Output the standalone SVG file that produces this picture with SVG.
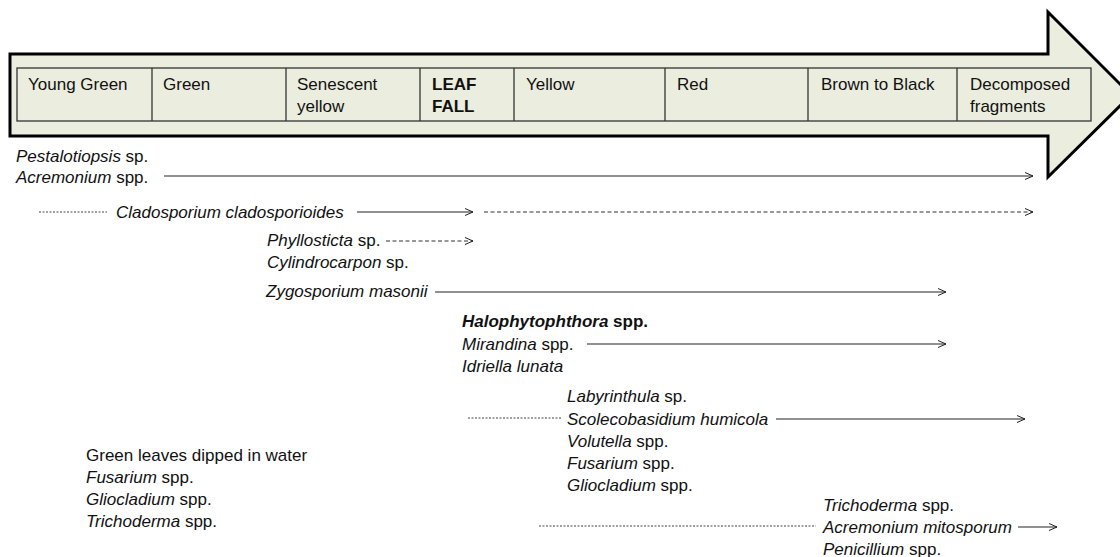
<svg xmlns="http://www.w3.org/2000/svg" width="1120" height="557" viewBox="0 0 1120 557">
<defs>
<marker id="chev" markerWidth="10" markerHeight="10" refX="8" refY="4" orient="auto" markerUnits="userSpaceOnUse">
<path d="M0,0.5 L8,4 L0,7.5" fill="none" stroke="#222" stroke-width="1"/>
</marker>
<style>
text{font-family:"Liberation Sans",Arial,sans-serif;font-size:17px;fill:#111}
.i{font-style:italic}
.b{font-weight:bold}
.cell{fill:none;stroke:#333;stroke-width:1.3}
.solid{stroke:#222;stroke-width:1.1;fill:none}
.dash{stroke:#333;stroke-width:1;fill:none;stroke-dasharray:4 2.5}
.dot{stroke:#444;stroke-width:1;fill:none;stroke-dasharray:2 1.5}
</style>
</defs>
<rect width="1120" height="557" fill="#fff"/>
<g id="timeline">
<polygon points="10,54 1048,54 1048,12 1131,95 1048,177 1048,136 10,136" fill="#EBEDDE" stroke="#000" stroke-width="3"/>
<rect x="17" y="68" width="1074" height="53" class="cell"/>
<line x1="152" y1="68" x2="152" y2="121" class="cell"/>
<line x1="286" y1="68" x2="286" y2="121" class="cell"/>
<line x1="420" y1="68" x2="420" y2="121" class="cell"/>
<line x1="514" y1="68" x2="514" y2="121" class="cell"/>
<line x1="665" y1="68" x2="665" y2="121" class="cell"/>
<line x1="808" y1="68" x2="808" y2="121" class="cell"/>
<line x1="957" y1="68" x2="957" y2="121" class="cell"/>
<text x="28" y="90">Young Green</text>
<text x="163" y="90">Green</text>
<text x="297" y="90">Senescent</text>
<text x="297" y="112">yellow</text>
<text x="432" y="90" class="b">LEAF</text>
<text x="432" y="112" class="b">FALL</text>
<text x="526" y="90">Yellow</text>
<text x="677" y="90">Red</text>
<text x="821" y="90">Brown to Black</text>
<text x="970" y="90">Decomposed</text>
<text x="970" y="112">fragments</text>
</g>
<g id="connectors">
<line x1="164" y1="176" x2="1033" y2="176" class="solid" marker-end="url(#chev)"/>
<line x1="39" y1="212" x2="107" y2="212" class="dot"/>
<line x1="357" y1="212" x2="473" y2="212" class="solid" marker-end="url(#chev)"/>
<line x1="484" y1="212" x2="1033" y2="212" class="dash" marker-end="url(#chev)"/>
<line x1="386" y1="241" x2="473" y2="241" class="dash" marker-end="url(#chev)"/>
<line x1="435" y1="292" x2="946" y2="292" class="solid" marker-end="url(#chev)"/>
<line x1="587" y1="344" x2="946" y2="344" class="solid" marker-end="url(#chev)"/>
<line x1="468" y1="418" x2="562" y2="418" class="dot"/>
<line x1="776" y1="419" x2="1025" y2="419" class="solid" marker-end="url(#chev)"/>
<line x1="539" y1="526" x2="816" y2="526" class="dot"/>
<line x1="1018" y1="527" x2="1057" y2="527" class="solid" marker-end="url(#chev)"/>
</g>
<g id="group-persistent">
<text x="16" y="162"><tspan class="i">Pestalotiopsis</tspan> sp.</text>
<text x="16" y="183"><tspan class="i">Acremonium</tspan> spp.</text>
</g>
<g id="group-cladosporium">
<text x="116" y="218" class="i">Cladosporium cladosporioides</text>
</g>
<g id="group-senescent">
<text x="267" y="246"><tspan class="i">Phyllosticta</tspan> sp.</text>
<text x="267" y="268"><tspan class="i">Cylindrocarpon</tspan> sp.</text>
<text x="266" y="297" class="i">Zygosporium masonii</text>
</g>
<g id="group-leaffall">
<text x="462" y="327" class="b"><tspan class="i">Halophytophthora</tspan> spp.</text>
<text x="462" y="350"><tspan class="i">Mirandina</tspan> spp.</text>
<text x="462" y="372" class="i">Idriella lunata</text>
</g>
<g id="group-yellow">
<text x="567" y="402"><tspan class="i">Labyrinthula</tspan> sp.</text>
<text x="567" y="425" class="i">Scolecobasidium humicola</text>
<text x="567" y="447"><tspan class="i">Volutella</tspan> spp.</text>
<text x="567" y="469"><tspan class="i">Fusarium</tspan> spp.</text>
<text x="567" y="491"><tspan class="i">Gliocladium</tspan> spp.</text>
</g>
<g id="group-green-leaves">
<text x="86" y="461">Green leaves dipped in water</text>
<text x="86" y="483"><tspan class="i">Fusarium</tspan> spp.</text>
<text x="86" y="505"><tspan class="i">Gliocladium</tspan> spp.</text>
<text x="86" y="527"><tspan class="i">Trichoderma</tspan> spp.</text>
</g>
<g id="group-late">
<text x="823" y="511"><tspan class="i">Trichoderma</tspan> spp.</text>
<text x="823" y="533" class="i">Acremonium mitosporum</text>
<text x="823" y="555"><tspan class="i">Penicillium</tspan> spp.</text>
</g>
</svg>
